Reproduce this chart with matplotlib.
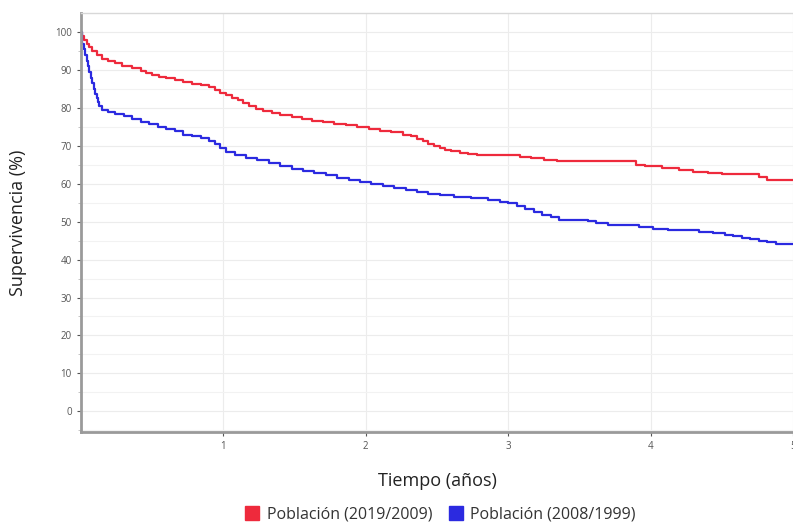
import matplotlib
matplotlib.use("Agg")
import matplotlib.pyplot as plt
from matplotlib.lines import Line2D

plt.rcParams['font.family'] = ['Open Sans', 'DejaVu Sans']

# Curva de supervivencia, población 2019/2009 (rojo)
t_rojo = [0.00, 0.01, 0.02, 0.04, 0.06, 0.08, 0.11, 0.15, 0.19, 0.24, 0.29, 0.36,
          0.42, 0.46, 0.50, 0.55, 0.60, 0.66, 0.72, 0.78, 0.84, 0.90, 0.94, 0.98,
          1.02, 1.06, 1.10, 1.14, 1.18, 1.23, 1.28, 1.34, 1.40, 1.48, 1.55, 1.62,
          1.70, 1.78, 1.86, 1.94, 2.02, 2.10, 2.18, 2.26, 2.32, 2.36, 2.40, 2.44,
          2.48, 2.52, 2.56, 2.60, 2.66, 2.72, 2.78, 3.00, 3.08, 3.16, 3.25, 3.34,
          3.48, 3.90, 3.96, 4.08, 4.20, 4.30, 4.40, 4.50, 4.76, 4.82, 5.00]
s_rojo = [100.0, 99.0, 98.0, 97.0, 96.0, 95.0, 94.0, 93.0, 92.5, 91.8, 91.0, 90.5,
          89.8, 89.2, 88.8, 88.2, 87.8, 87.3, 86.8, 86.3, 86.0, 85.4, 84.8, 84.0,
          83.3, 82.6, 82.0, 81.2, 80.5, 79.8, 79.2, 78.6, 78.2, 77.6, 77.1, 76.6,
          76.2, 75.8, 75.4, 75.0, 74.5, 74.0, 73.6, 73.0, 72.5, 71.8, 71.2, 70.6,
          70.0, 69.5, 69.0, 68.6, 68.2, 67.9, 67.7, 67.5, 67.1, 66.8, 66.4, 66.1,
          66.0, 65.0, 64.6, 64.2, 63.6, 63.1, 62.8, 62.6, 61.8, 61.1, 61.0]

# Curva de supervivencia, población 2008/1999 (azul)
t_azul = [0.00, 0.005, 0.01, 0.02, 0.03, 0.04, 0.05, 0.06, 0.07, 0.08, 0.09, 0.10,
          0.11, 0.12, 0.13, 0.15, 0.19, 0.24, 0.30, 0.36, 0.42, 0.48, 0.54, 0.60,
          0.66, 0.72, 0.78, 0.84, 0.90, 0.94, 0.98, 1.02, 1.08, 1.16, 1.24, 1.32,
          1.40, 1.48, 1.56, 1.64, 1.72, 1.80, 1.88, 1.96, 2.04, 2.12, 2.20, 2.28,
          2.36, 2.44, 2.52, 2.62, 2.74, 2.86, 2.94, 3.00, 3.06, 3.12, 3.18, 3.24,
          3.30, 3.36, 3.56, 3.62, 3.70, 3.92, 4.02, 4.12, 4.34, 4.44, 4.52, 4.58,
          4.64, 4.70, 4.76, 4.82, 4.88, 5.00]
s_azul = [100.0, 98.5, 97.0, 95.5, 94.0, 92.5, 91.0, 89.5, 88.0, 86.5, 85.0, 83.8,
          82.6, 81.5, 80.5, 79.5, 79.0, 78.4, 77.8, 77.0, 76.4, 75.8, 75.0, 74.5,
          73.8, 73.0, 72.6, 72.0, 71.3, 70.5, 69.5, 68.3, 67.5, 66.8, 66.2, 65.5,
          64.8, 64.0, 63.4, 62.8, 62.2, 61.6, 61.0, 60.5, 60.0, 59.5, 59.0, 58.3,
          57.8, 57.4, 57.0, 56.6, 56.2, 55.8, 55.3, 54.9, 54.2, 53.4, 52.6, 51.9,
          51.2, 50.5, 50.3, 49.6, 49.1, 48.6, 48.1, 47.7, 47.4, 47.0, 46.6, 46.2,
          45.8, 45.4, 45.0, 44.6, 44.1, 44.0]

etiquetas = ['Población (2019/2009)', 'Población (2008/1999)']
colores = ['#ee2a3c', '#2b2ae0']

fig = plt.figure(figsize=(7.93, 5.27), dpi=100)
ax = fig.add_axes([0.102, 0.180, 0.898, 0.795])

ax.plot(t_rojo, s_rojo, drawstyle='steps-post', color=colores[0], lw=1.6)
ax.plot(t_azul, s_azul, drawstyle='steps-post', color=colores[1], lw=1.6)

ax.set_xlim(0, 5)
ax.set_ylim(-5.5, 105)
ax.set_xticks([1, 2, 3, 4, 5])
ax.set_yticks(range(0, 101, 10))
ax.set_yticks(range(-5, 105, 10), minor=True)
ax.tick_params(axis='both', labelsize=7, colors='#555555', length=3, width=0.8)
ax.tick_params(axis='y', which='minor', length=2, color='#bbbbbb')
ax.grid(True, which='major', color='#ececec', lw=0.8)
ax.grid(True, which='minor', axis='y', color='#f2f2f2', lw=0.8)

for lado in ['left', 'bottom']:
    ax.spines[lado].set_color('#9a9a9a')
    ax.spines[lado].set_linewidth(2)
ax.spines['top'].set_color('#d8d8d8')
ax.spines['top'].set_linewidth(1)
ax.spines['right'].set_visible(False)

ax.set_ylabel('Supervivencia (%)', fontsize=13, color='#222222', labelpad=20)
ax.set_xlabel('Tiempo (años)', fontsize=13, color='#222222', labelpad=14)

handles = [Line2D([], [], marker='s', ls='none', color=c, markersize=10) for c in colores]
fig.legend(handles, etiquetas, loc='lower center', bbox_to_anchor=(0.55, -0.018),
           ncol=2, frameon=False, fontsize=11.5, handletextpad=-0.1, columnspacing=0.5,
           labelcolor='#333333')

fig.savefig('out.png', dpi=100)
